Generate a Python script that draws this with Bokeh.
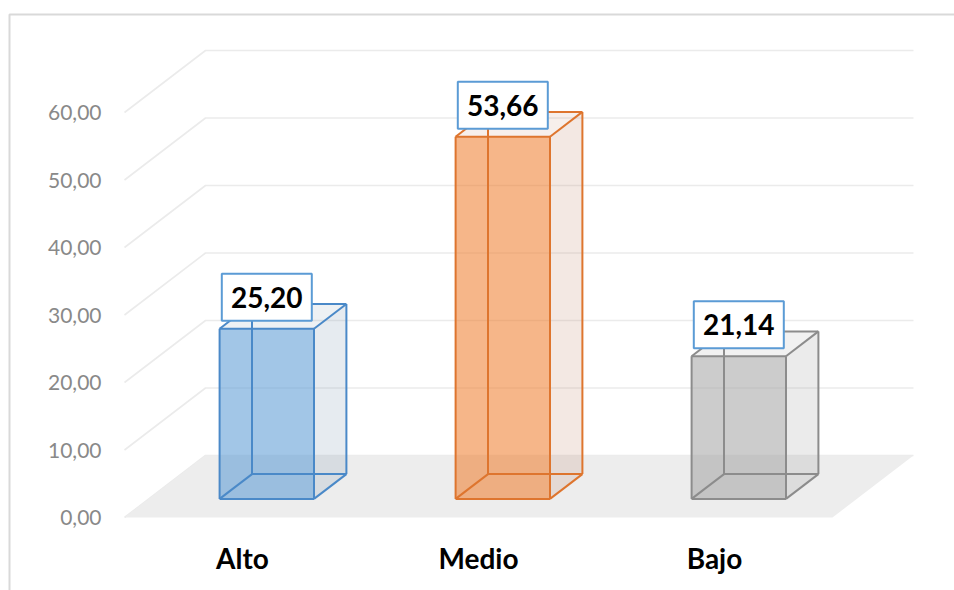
from bokeh.plotting import figure
from bokeh.models import Range1d, LinearAxis, FixedTicker
from bokeh.embed import file_html
from bokeh.resources import INLINE
from bokeh.core.properties import value

# ---------------- data ----------------
categories = ["Alto", "Medio", "Bajo"]
values = [25.20, 53.66, 21.14]
y_ticks = [0, 10, 20, 30, 40, 50, 60]
y_tick_labels = ["0,00", "10,00", "20,00", "30,00", "40,00", "50,00", "60,00"]

# ---------------- styles ----------------
face_colors = ["#5B9BD5", "#F07E30", "#A5A5A5"]
edge_colors = ["#4A89C8", "#DE752E", "#8C8C8C"]
side_colors = ["#829BB4", "#C38C73", "#9B9B9B"]
FONT = "Lato"

W, H = 954, 590
# layout of the data space on the canvas
X0_PX, X_UNIT_PX = 242.0, 236.0      # category 0 at x px, px per category
Y0_PX, Y_UNIT_PX = 517.0, 6.75       # value 0 at y px (from top), px per unit
DX = 81.0 / X_UNIT_PX                # depth offset (category units)
DY = 62.0 / Y_UNIT_PX                # depth offset (value units)
D_FRONT, D_BACK = 0.3, 0.7           # bar depth span
BAR_W = 0.4


def px2x(px):
    return (px - X0_PX) / X_UNIT_PX


def py2y(py):
    return (Y0_PX - py) / Y_UNIT_PX


def proj(x, y, d):
    return x + d * DX, y + d * DY


p = figure(width=W, height=H, output_backend="svg", toolbar_location=None,
           x_range=Range1d(px2x(0), px2x(W)), y_range=Range1d(py2y(H), py2y(0)),
           x_axis_location=None, y_axis_location=None, min_border=0)
p.outline_line_color = None
p.background_fill_color = "white"
p.border_fill_color = "white"
p.grid.visible = False

x_lo, x_hi = -0.5, len(categories) - 0.5

# gridlines: left side wall diagonal + back wall
g_xs, g_ys = [], []
for t in y_ticks:
    a = proj(x_lo, t, 0)
    b = proj(x_lo, t, 1)
    c = proj(x_hi, t, 1)
    g_xs.append([a[0], b[0], c[0]])
    g_ys.append([a[1], b[1], c[1]])
p.multi_line(g_xs, g_ys, line_color="#EBEBEB", line_width=1.6)

# floor
fl = [proj(x_lo, 0, 0), proj(x_hi, 0, 0), proj(x_hi, 0, 1), proj(x_lo, 0, 1)]
p.patch([q[0] for q in fl], [q[1] for q in fl], fill_color="#EDEDED", line_color=None)

# bars
for i, v in enumerate(values):
    l, r = i - BAR_W / 2, i + BAR_W / 2
    front = [proj(l, 0, D_FRONT), proj(r, 0, D_FRONT), proj(r, v, D_FRONT), proj(l, v, D_FRONT)]
    side = [proj(r, 0, D_FRONT), proj(r, 0, D_BACK), proj(r, v, D_BACK), proj(r, v, D_FRONT)]
    top = [proj(l, v, D_FRONT), proj(r, v, D_FRONT), proj(r, v, D_BACK), proj(l, v, D_BACK)]
    p.patch([q[0] for q in side], [q[1] for q in side], fill_color=side_colors[i],
            fill_alpha=0.2, line_color=None)
    p.patch([q[0] for q in top], [q[1] for q in top], fill_color=side_colors[i],
            fill_alpha=0.14, line_color=None)
    p.patch([q[0] for q in front], [q[1] for q in front], fill_color=face_colors[i],
            fill_alpha=0.57, line_color=None)
    corners = {}
    for xx, kx in ((l, "l"), (r, "r")):
        for yy, ky in ((0, "b"), (v, "t")):
            for dd, kd in ((D_FRONT, "f"), (D_BACK, "k")):
                corners[kx + ky + kd] = proj(xx, yy, dd)
    edges = [("lbf", "rbf"), ("rbf", "rtf"), ("rtf", "ltf"), ("ltf", "lbf"),
             ("lbk", "rbk"), ("rbk", "rtk"), ("rtk", "ltk"), ("ltk", "lbk"),
             ("lbf", "lbk"), ("rbf", "rbk"), ("rtf", "rtk"), ("ltf", "ltk")]
    p.multi_line([[corners[a][0], corners[b][0]] for a, b in edges],
                 [[corners[a][1], corners[b][1]] for a, b in edges],
                 line_color=edge_colors[i], line_width=2, line_join="round")

# value labels (boxes)
LABEL_GAP_PX = 31.5
lab_x = [i + D_FRONT * DX for i in range(len(values))]
lab_y = [v + D_FRONT * DY + LABEL_GAP_PX / Y_UNIT_PX for v in values]
lab_t = [f"{v:.2f}".replace(".", ",") for v in values]
p.rect(lab_x, lab_y, width=90, height=47, width_units="screen", height_units="screen",
       fill_color="white", line_color="#5B9BD5", line_width=2)
p.text(lab_x, lab_y, text=lab_t, text_font=value(FONT), text_font_style="bold",
       text_font_size="28px", text_align="center", text_baseline="middle",
       text_color="#000000")

# value axis (front-left edge)
yaxis = LinearAxis(fixed_location=x_lo, ticker=FixedTicker(ticks=y_ticks),
                   major_label_overrides={t: s for t, s in zip(y_ticks, y_tick_labels)})
yaxis.axis_line_color = None
yaxis.major_tick_line_color = None
yaxis.minor_tick_line_color = None
yaxis.major_tick_out = 0
yaxis.major_tick_in = 0
yaxis.major_label_standoff = 23
yaxis.major_label_text_font = FONT
yaxis.major_label_text_font_size = "21px"
yaxis.major_label_text_color = "#898989"
p.add_layout(yaxis, "left")

# category axis (front floor edge)
xaxis = LinearAxis(fixed_location=0, ticker=FixedTicker(ticks=list(range(len(categories)))),
                   major_label_overrides={i: c for i, c in enumerate(categories)})
xaxis.axis_line_color = None
xaxis.major_tick_line_color = None
xaxis.minor_tick_line_color = None
xaxis.major_tick_out = 0
xaxis.major_tick_in = 0
xaxis.major_label_standoff = 23
xaxis.major_label_text_font = FONT
xaxis.major_label_text_font_style = "bold"
xaxis.major_label_text_font_size = "28px"
xaxis.major_label_text_color = "#000000"
p.add_layout(xaxis, "below")

# chart area border (left and top edges visible)
p.line([px2x(9), px2x(9), px2x(W)], [py2y(H), py2y(14), py2y(14)],
       line_color="#D9D9D9", line_width=2)

open("out.html", "w").write(file_html(p, INLINE))
